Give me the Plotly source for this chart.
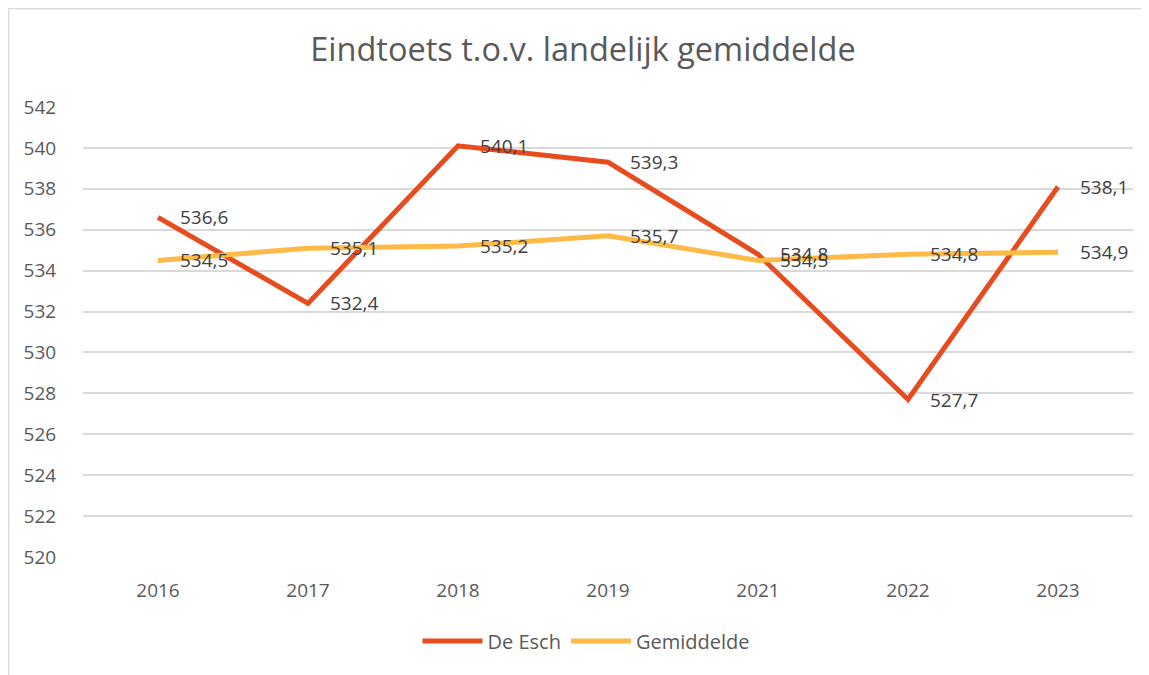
import plotly.graph_objects as go

years = ["2016", "2017", "2018", "2019", "2021", "2022", "2023"]
de_esch = [536.6, 532.4, 540.1, 539.3, 534.8, 527.7, 538.1]
gemiddelde = [534.5, 535.1, 535.2, 535.7, 534.5, 534.8, 534.9]
y_ticks = list(range(520, 543, 2))

RED = "#E84C1E"
YEL = "#FFB946"
FONT = "Open Sans"

W, H = 1141, 667
L, T = 75, 99
PW = 1050
PH = 450

fig = go.Figure()
fig.add_trace(go.Scatter(x=years, y=de_esch, name="De Esch", mode="lines",
                         line=dict(color=RED, width=5)))
fig.add_trace(go.Scatter(x=years, y=gemiddelde, name="Gemiddelde", mode="lines",
                         line=dict(color=YEL, width=5)))

annotations = []
for series in (de_esch, gemiddelde):
    for i, v in enumerate(series):
        annotations.append(dict(x=i, y=v, xref="x", yref="y",
                                text=f"{v:.1f}".replace(".", ","),
                                showarrow=False, xanchor="left", yanchor="middle",
                                xshift=20, font=dict(family=FONT, size=19, color="#404040")))

fig.update_layout(
    width=W, height=H,
    paper_bgcolor="white", plot_bgcolor="white",
    margin=dict(l=L, r=W - L - PW, t=T, b=H - T - PH),
    title=dict(text="Eindtoets t.o.v. landelijk gemiddelde", x=(583 - 8) / W, xanchor="center",
               y=1 - 42 / H, yanchor="middle", yref="container",
               font=dict(family=FONT, size=32.5, color="#595959")),
    xaxis=dict(type="category", showgrid=False, zeroline=False, showline=False,
               ticks="outside", ticklen=16, tickcolor="rgba(0,0,0,0)",
               tickfont=dict(family=FONT, size=19, color="#595959"),
               range=[-0.5, 6.5]),
    yaxis=dict(range=[520, 542], tickvals=y_ticks, showgrid=True, gridcolor="#D9D9D9",
               gridwidth=1.5, zeroline=False, showline=False,
               ticks="outside", ticklen=22, tickcolor="rgba(0,0,0,0)",
               tickfont=dict(family=FONT, size=19, color="#595959")),
    legend=dict(orientation="h", x=(586 - 83) / PW, xanchor="center", y=-84 / PH, yanchor="middle",
                font=dict(family=FONT, size=20, color="#595959"), itemwidth=60),
    annotations=annotations,
    shapes=[dict(type="rect", xref="paper", yref="paper",
                 x0=-L / PW + 0.0005, x1=1.05, y0=-0.5, y1=(T + PH) / PH - 0.001,
                 line=dict(color="#D9D9D9", width=1.5), fillcolor="rgba(0,0,0,0)",
                 layer="below")],
)

fig.write_html("out.html")
